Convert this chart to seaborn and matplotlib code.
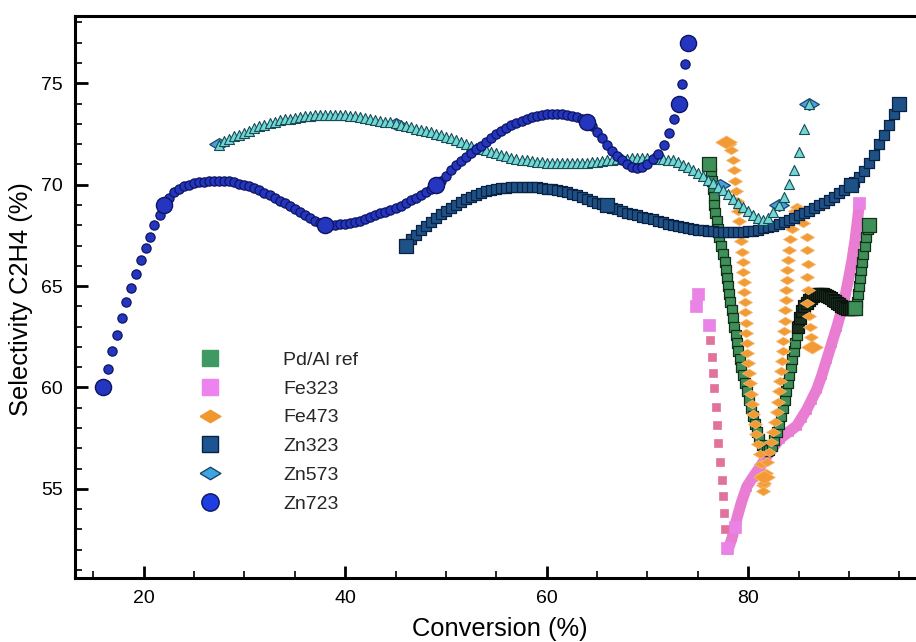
import matplotlib
matplotlib.use("Agg")
import matplotlib.pyplot as plt
from matplotlib.lines import Line2D
from matplotlib.ticker import MultipleLocator
import seaborn as sns

sns.set_theme(style="white")
plt.rcParams['font.family'] = ['Liberation Sans', 'DejaVu Sans']

# ---------------- Zn723 (circles) ----------------
zn723_x = [16.0, 16.5, 16.9, 17.4, 17.9, 18.3, 18.8, 19.3, 19.7, 20.2, 20.6, 21.0, 21.6, 22.0,
           22.5, 23.0, 23.5, 24.0, 24.5, 25.0, 25.5, 26.0, 26.5, 27.0,
           27.5, 28.0, 28.5, 29.0, 29.5, 30.0, 30.5, 31.0, 31.5, 32.0,
           32.5, 33.0, 33.5, 34.0, 34.5, 35.0, 35.5, 36.0, 36.5, 37.0,
           37.5, 38.0, 38.5, 39.0, 39.5, 40.0, 40.5, 41.0, 41.5, 42.0,
           42.5, 43.0, 43.5, 44.0, 44.5, 45.0, 45.5, 46.0, 46.5, 47.0,
           47.5, 48.0, 48.5, 49.0, 49.5, 50.0, 50.5, 51.0, 51.5, 52.0,
           52.5, 53.0, 53.5, 54.0, 54.5, 55.0, 55.5, 56.0, 56.5, 57.0,
           57.5, 58.0, 58.5, 59.0, 59.5, 60.0, 60.5, 61.0, 61.5, 62.0,
           62.5, 63.0, 63.5, 64.0, 64.5, 65.0, 65.5, 66.0, 66.5, 67.0,
           67.5, 68.0, 68.5, 69.0, 69.5, 70.0, 70.5, 71.0,
           71.6, 72.1, 72.6, 73.1, 73.4, 73.7, 74.05]
zn723_y = [60.0, 60.9, 61.8, 62.6, 63.4, 64.2, 64.9, 65.6, 66.3, 66.9, 67.4, 68.0, 68.5, 69.0,
           69.35, 69.62, 69.78, 69.92, 70.0, 70.06, 70.11, 70.15, 70.18, 70.2,
           70.2, 70.19, 70.16, 70.11, 70.05, 69.99, 69.92, 69.84, 69.72, 69.6,
           69.47, 69.34, 69.21, 69.08, 68.93, 68.79, 68.65, 68.5, 68.37, 68.22,
           68.1, 68.0, 68.0, 68.02, 68.05, 68.08, 68.12, 68.16, 68.2, 68.3,
           68.4, 68.5, 68.58, 68.67, 68.76, 68.86, 68.97, 69.1, 69.22, 69.35,
           69.5, 69.64, 69.78, 69.94, 70.18, 70.44, 70.7, 70.95, 71.16, 71.36,
           71.55, 71.75, 71.93, 72.12, 72.3, 72.48, 72.63, 72.78, 72.93, 73.05,
           73.15, 73.25, 73.34, 73.41, 73.45, 73.48, 73.49, 73.49, 73.47, 73.44,
           73.4, 73.33, 73.24, 73.1, 72.88, 72.6, 72.28, 71.96, 71.65, 71.4,
           71.2, 71.0, 70.88, 70.82, 70.86, 71.02, 71.25, 71.5,
           71.96, 72.53, 73.22, 74.0, 74.95, 75.94, 77.0]
zn723_key_x = [16.0, 22.0, 38.0, 49.0, 64.0, 73.1, 74.05]
zn723_key_y = [60.0, 69.0, 68.0, 70.0, 73.1, 74.0, 77.0]

# ---------------- Zn573 (triangles) ----------------
zn573_x = [27.5, 28.0, 28.5, 29.0, 29.5, 30.0, 30.5, 31.0, 31.5, 32.0,
           32.5, 33.0, 33.5, 34.0, 34.5, 35.0, 35.5, 36.0, 36.5, 37.0,
           37.5, 38.0, 38.5, 39.0, 39.5, 40.0, 40.5, 41.0, 41.5, 42.0,
           42.5, 43.0, 43.5, 44.0, 44.5, 45.0, 45.5, 46.0, 46.5, 47.0,
           47.5, 48.0, 48.5, 49.0, 49.5, 50.0, 50.5, 51.0, 51.5, 52.0,
           52.5, 53.0, 53.5, 54.0, 54.5, 55.0, 55.5, 56.0, 56.5, 57.0,
           57.5, 58.0, 58.5, 59.0, 59.5, 60.0, 60.5, 61.0, 61.5, 62.0,
           62.5, 63.0, 63.5, 64.0, 64.5, 65.0, 65.5, 66.0, 66.5, 67.0,
           67.5, 68.0, 68.5, 69.0, 69.5, 70.0, 70.5, 71.0, 71.5, 72.0,
           72.5, 73.0, 73.5, 74.0, 74.5, 75.0, 75.5, 76.0, 76.5, 77.0,
           77.5, 78.0, 78.5, 79.0, 79.5, 80.0, 80.5, 81.0, 81.5, 82.0,
           82.5, 83.0,
           83.5, 84.05, 84.55, 85.05, 85.55, 86.05]
zn573_y = [71.98, 72.13, 72.27, 72.38, 72.47, 72.56, 72.67, 72.78, 72.88, 72.95,
           73.03, 73.1, 73.17, 73.22, 73.26, 73.3, 73.34, 73.37, 73.4, 73.42,
           73.44, 73.45, 73.45, 73.45, 73.44, 73.43, 73.41, 73.38, 73.35, 73.31,
           73.25, 73.19, 73.15, 73.11, 73.07, 73.03, 72.96, 72.89, 72.83, 72.77,
           72.71, 72.65, 72.58, 72.52, 72.44, 72.36, 72.28, 72.19, 72.1, 72.0,
           71.91, 71.83, 71.76, 71.69, 71.61, 71.54, 71.47, 71.4, 71.34, 71.28,
           71.24, 71.2, 71.15, 71.12, 71.1, 71.08, 71.06, 71.05, 71.05, 71.05,
           71.05, 71.05, 71.07, 71.09, 71.12, 71.14, 71.17, 71.2, 71.23, 71.26,
           71.28, 71.29, 71.3, 71.3, 71.3, 71.3, 71.3, 71.29, 71.27, 71.24,
           71.2, 71.1, 70.98, 70.87, 70.73, 70.58, 70.42, 70.25, 70.08, 69.9,
           69.72, 69.53, 69.31, 69.08, 68.88, 68.7, 68.51, 68.36, 68.26, 68.38,
           68.63, 69.0,
           69.41, 70.03, 70.72, 71.63, 72.73, 74.0]
zn573_key_x = [27.5, 45.0, 77.2, 83.0, 86.05]
zn573_key_y = [72.0, 73.0, 70.0, 69.0, 74.0]

# ---------------- Zn323 (dark squares) ----------------
zn323_x = [46.0, 46.5, 47.0, 47.5, 48.0, 48.5, 49.0, 49.5, 50.0, 50.5,
           51.0, 51.5, 52.0, 52.5, 53.0, 53.5, 54.0, 54.5, 55.0, 55.5,
           56.0, 56.5, 57.0, 57.5, 58.0, 58.5, 59.0, 59.5, 60.0, 60.5,
           61.0, 61.5, 62.0, 62.5, 63.0, 63.5, 64.0, 64.5, 65.0, 65.5,
           66.0, 66.5, 67.0, 67.5, 68.0, 68.5, 69.0, 69.5, 70.0, 70.5,
           71.0, 71.5, 72.0, 72.5, 73.0, 73.5, 74.0, 74.5, 75.0, 75.5,
           76.0, 76.5, 77.0, 77.5, 78.0, 78.5, 79.0, 79.5, 80.0, 80.5,
           81.0, 81.5, 82.0, 82.5, 83.0, 83.5, 84.0, 84.5, 85.0, 85.5,
           86.0, 86.5, 87.0, 87.5, 88.0, 88.5, 89.0, 89.5, 90.0, 90.5,
           91.0, 91.5, 92.0, 92.5, 93.0, 93.5, 94.0, 94.5, 95.0]
zn323_y = [67.05, 67.3, 67.53, 67.75, 67.96, 68.16, 68.35, 68.53, 68.7, 68.86,
           69.0, 69.14, 69.27, 69.38, 69.49, 69.59, 69.67, 69.73, 69.78, 69.82,
           69.85, 69.87, 69.89, 69.9, 69.9, 69.89, 69.87, 69.84, 69.81, 69.77,
           69.73, 69.68, 69.63, 69.56, 69.48, 69.38, 69.3, 69.21, 69.12, 69.03,
           68.94, 68.86, 68.78, 68.69, 68.61, 68.54, 68.48, 68.41, 68.35, 68.29,
           68.22, 68.15, 68.08, 68.01, 67.95, 67.91, 67.86, 67.82, 67.78, 67.75,
           67.72, 67.7, 67.68, 67.67, 67.67, 67.67, 67.68, 67.69, 67.71, 67.74,
           67.78, 67.84, 67.9, 67.98, 68.07, 68.16, 68.26, 68.37, 68.48, 68.6,
           68.72, 68.85, 68.98, 69.12, 69.26, 69.41, 69.57, 69.74, 69.92, 70.12,
           70.38, 70.68, 71.05, 71.47, 72.0, 72.45, 72.95, 73.5, 74.0]
zn323_key_x = [46.0, 66.0, 90.2, 95.0]
zn323_key_y = [67.0, 69.0, 70.0, 74.0]

# ---------------- Pd/Al ref (green squares) ----------------
# steep V branch
pdal_x = [76.1, 76.3, 76.4, 76.5, 76.55, 76.6, 76.7, 76.85, 77.0, 77.1,
          77.3, 77.5, 77.65, 77.75, 77.85, 77.95, 78.1, 78.2, 78.35, 78.5,
          78.6, 78.75, 78.85, 79.0, 79.15, 79.3, 79.45, 79.65, 79.85, 80.05,
          80.3, 80.5, 80.7, 80.9, 81.1, 81.35, 81.6, 81.85, 82.1, 82.35,
          82.6, 82.85, 83.05, 83.25, 83.45, 83.6, 83.75, 83.9, 84.05, 84.2,
          84.35, 84.5, 84.65, 84.8,
          90.75, 90.85, 90.95, 91.05, 91.15, 91.3, 91.4,
          91.55, 91.7, 91.85, 92.0]
pdal_y = [71.0, 70.6, 70.2, 69.8, 69.4, 69.0, 68.6, 68.2, 67.8, 67.4,
          67.0, 66.6, 66.2, 65.8, 65.4, 65.0, 64.6, 64.2, 63.8, 63.4,
          63.0, 62.6, 62.2, 61.8, 61.4, 61.0, 60.6, 60.2, 59.8, 59.4,
          59.0, 58.6, 58.2, 57.8, 57.45, 57.15, 56.95, 56.85, 56.9, 57.1,
          57.4, 57.8, 58.2, 58.6, 59.0, 59.4, 59.8, 60.2, 60.6, 61.0,
          61.4, 61.8, 62.2, 62.6,
          64.2, 64.6, 65.0, 65.4, 65.8, 66.2, 66.6,
          67.0, 67.4, 67.8, 68.0]
# densely sampled shoulder (markers pile up nearly black)
pdal_wave_x = [84.95, 85.1, 85.3, 85.55, 85.8, 86.0, 86.2, 86.4, 86.6, 86.8,
               87.0, 87.2, 87.4, 87.6, 87.8, 88.0, 88.2, 88.4, 88.6, 88.8,
               89.0, 89.2, 89.4, 89.6, 89.8, 90.0, 90.2, 90.4, 90.6]
pdal_wave_y = [63.0, 63.4, 63.75, 64.0, 64.15, 64.3, 64.42, 64.52, 64.58, 64.61,
               64.62, 64.62, 64.6, 64.57, 64.53, 64.47, 64.4, 64.33, 64.26, 64.18,
               64.1, 64.02, 63.95, 63.9, 63.86, 63.85, 63.86, 63.88, 63.95]
pdal_key_x = [76.1, 90.6, 92.0]
pdal_key_y = [71.0, 63.9, 68.0]

# ---------------- Fe323 (pink squares) ----------------
fe323_drop_x = [76.22, 76.37, 76.53, 76.63, 76.77, 76.9, 77.03, 77.2, 77.36, 77.46, 77.62, 77.72]
fe323_drop_y = [62.34, 61.52, 60.7, 59.96, 59.05, 58.15, 57.25, 56.34, 55.44, 54.62, 53.8, 53.0]
fe323_rise_x = [78.0, 78.4, 78.85, 79.3, 79.85, 80.5, 81.2, 82.1, 83.1, 84.0,
                84.8, 85.3, 85.8, 86.3, 86.8, 87.3, 87.8, 88.3, 88.8, 89.2,
                89.6, 90.0, 90.3, 90.6, 90.85, 91.0]
fe323_rise_y = [52.0, 52.6, 53.5, 54.3, 55.1, 55.6, 56.1, 56.8, 57.45, 57.8,
                58.1, 58.5, 58.9, 59.4, 59.9, 60.6, 61.4, 62.2, 63.0, 63.7,
                64.5, 65.5, 66.3, 67.3, 68.3, 69.0]
fe323_key_x = [74.8, 75.0, 76.1, 77.9, 78.7, 91.0]
fe323_key_y = [64.0, 64.6, 63.1, 52.1, 53.1, 69.1]

# ---------------- Fe473 (orange diamonds) ----------------
fe473_x = [77.8, 78.1, 78.3, 78.45, 78.55, 78.65, 78.75, 78.85, 78.95, 79.05,
           79.15, 79.25, 79.35, 79.45, 79.5, 79.55, 79.6, 79.65, 79.7, 79.75,
           79.8, 79.85, 79.9, 80.0, 80.1, 80.2, 80.3, 80.4, 80.5, 80.65,
           80.8, 80.95, 81.15, 81.3, 81.4, 81.45, 81.5, 81.6, 81.75, 81.9,
           82.1, 82.3, 82.5, 82.65, 82.8, 82.95, 83.05, 83.15, 83.25, 83.3,
           83.4, 83.45, 83.55, 83.6, 83.65, 83.7, 83.75, 83.8, 83.85, 83.95,
           84.05, 84.15, 84.3, 84.45, 84.6, 84.8, 85.0, 85.2, 85.45, 85.8,
           85.8, 85.95, 85.8, 85.95, 85.8, 86.0, 86.1, 86.2, 86.3]
fe473_y = [72.1, 72.0, 71.7, 71.2, 70.7, 70.2, 69.7, 69.2, 68.7, 68.2,
           67.7, 67.2, 66.7, 66.2, 65.7, 65.2, 64.7, 64.2, 63.7, 63.2,
           62.7, 62.2, 61.7, 61.2, 60.7, 60.2, 59.7, 59.2, 58.7, 58.2,
           57.7, 57.2, 56.7, 56.2, 55.7, 55.2, 54.9, 55.3, 55.8, 56.3,
           56.8, 57.3, 57.8, 58.3, 58.8, 59.3, 59.8, 60.3, 60.8, 61.3,
           61.8, 62.3, 62.8, 63.3, 63.8, 64.3, 64.8, 65.3, 65.8, 66.3,
           66.8, 67.3, 67.8, 68.3, 68.7, 68.9, 68.8, 68.5, 68.1, 67.44,
           66.8, 66.1, 65.46, 64.8, 64.15, 63.5, 63.0, 62.5, 62.0]
fe473_key_x = [77.8, 81.6, 86.3]
fe473_key_y = [72.1, 55.6, 62.0]

series_labels = ["Pd/Al ref", "Fe323", "Fe473", "Zn323", "Zn573", "Zn723"]

# flat (wide) diamond marker
FLAT_DIAMOND = [(-1, 0), (0, 0.6), (1, 0), (0, -0.6), (-1, 0)]

fig = plt.figure(figsize=(9.16, 6.42), dpi=100)
ax = fig.add_axes([75 / 916, 64 / 642, 841 / 916, 562 / 642])


def dots(x, y, marker, size, face, edge, lw, z):
    sns.scatterplot(x=x, y=y, marker=marker, s=size, color=face, edgecolor=edge,
                    linewidth=lw, zorder=z, ax=ax, legend=False)


# Fe323
sns.lineplot(x=fe323_rise_x, y=fe323_rise_y, sort=False, estimator=None,
             color="#e87dd2", linewidth=8, zorder=2, ax=ax, legend=False)
dots(fe323_rise_x, fe323_rise_y, "s", 40, "#e87dd2", "#e87dd2", 0.5, 2.1)
dots(fe323_drop_x, fe323_drop_y, "s", 28, "#e0729c", "#e0729c", 0.5, 2.1)
dots(fe323_key_x, fe323_key_y, "s", 75, "#e983e6", "#e983e6", 0.5, 2.2)

# Pd/Al ref
dots(pdal_x, pdal_y, "s", 42, "#3f8f59", "#12301a", 0.9, 3)
dots(pdal_wave_x, pdal_wave_y, "s", 70, "#1b2f1e", "#0a140c", 0.9, 3)
dots(pdal_key_x, pdal_key_y, "s", 110, "#3f8f59", "#12301a", 0.9, 3.1)

# Fe473
dots(fe473_x, fe473_y, FLAT_DIAMOND, 100, "#f29a33", "#f6b56a", 0.6, 4)
dots(fe473_key_x, fe473_key_y, FLAT_DIAMOND, 240, "#f29a33", "#f6b56a", 0.6, 4.1)

# Zn323
dots(zn323_x, zn323_y, "s", 42, "#1e5287", "#0a2242", 0.9, 5)
dots(zn323_key_x, zn323_key_y, "s", 100, "#1e5287", "#0a2242", 0.9, 5.1)

# Zn573
dots(zn573_key_x, zn573_key_y, FLAT_DIAMOND, 200, "#4aa0dc", "#1a4565", 0.9, 6)
dots(zn573_x, zn573_y, "^", 52, "#6fd8d0", "#1b4a5a", 0.8, 6.1)

# Zn723
dots(zn723_x, zn723_y, "o", 44, "#2436c0", "#0d1560", 0.9, 7)
dots(zn723_key_x, zn723_key_y, "o", 135, "#2436c0", "#0d1560", 1.0, 7.1)

# axes styling
ax.set_xlim(13.2, 96.64)
ax.set_ylim(50.6, 78.32)
ax.xaxis.set_major_locator(MultipleLocator(20))
ax.xaxis.set_minor_locator(MultipleLocator(5))
ax.yaxis.set_major_locator(MultipleLocator(5))
ax.yaxis.set_minor_locator(MultipleLocator(1))
ax.spines['right'].set_visible(False)
for side in ('left', 'bottom', 'top'):
    ax.spines[side].set_linewidth(2.2)
    ax.spines[side].set_color('black')
ax.tick_params(which='both', direction='in', bottom=True, left=True, top=False, right=False,
               colors='black')
ax.tick_params(which='major', length=9, width=2, labelsize=14, pad=8.5)
ax.tick_params(which='minor', length=5, width=1.2)
ax.grid(False)
ax.set_facecolor('white')

ax.set_xlabel("Conversion (%)", fontsize=18.4, color='black')
ax.set_ylabel("Selectivity C2H4 (%)", fontsize=18.4, color='black')
ax.xaxis.set_label_coords(0.505, -0.069)
ax.yaxis.set_label_coords(-0.0495, 0.4956)

handles = [
    Line2D([], [], linestyle='none', marker='s', markersize=11.5,
           markerfacecolor='#3e9a62', markeredgecolor='#3e9a62'),
    Line2D([], [], linestyle='none', marker='s', markersize=11.5,
           markerfacecolor='#ee82ee', markeredgecolor='#ee82ee'),
    Line2D([], [], linestyle='none', marker=FLAT_DIAMOND, markersize=15,
           markerfacecolor='#f0982e', markeredgecolor='#f0982e'),
    Line2D([], [], linestyle='none', marker='s', markersize=11.5,
           markerfacecolor='#1d5592', markeredgecolor='#0a2242', markeredgewidth=1.0),
    Line2D([], [], linestyle='none', marker=FLAT_DIAMOND, markersize=15,
           markerfacecolor='#3fa4e0', markeredgecolor='#184868', markeredgewidth=1.0),
    Line2D([], [], linestyle='none', marker='o', markersize=12.5,
           markerfacecolor='#1f3de0', markeredgecolor='#0d1560', markeredgewidth=1.0),
]
leg = ax.legend(handles, series_labels, loc='upper left',
                bbox_to_anchor=(190.5 / 916, (642 - 351) / 642),
                bbox_transform=fig.transFigure, frameon=False, fontsize=14,
                handlelength=2.0, handletextpad=2.76, labelspacing=0.58,
                borderpad=0, borderaxespad=0)
leg.set_zorder(10)

fig.savefig("out.png", dpi=100, facecolor='white')
